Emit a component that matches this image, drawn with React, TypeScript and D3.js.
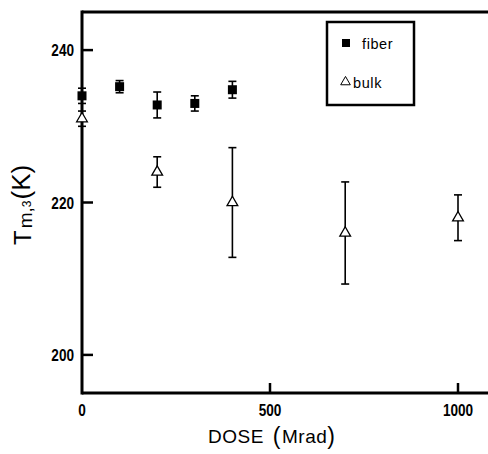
import React from "react";
import * as d3 from "d3";

const fiberDose = [0, 100, 200, 300, 400];
const fiberT = [234.0, 235.2, 232.8, 233.0, 234.8];
const fiberErr = [1.0, 0.8, 1.7, 1.0, 1.1];

const bulkDose = [0, 200, 400, 700, 1000];
const bulkT = [231.0, 224.0, 220.0, 216.0, 218.0];
const bulkErr = [1.0, 2.0, 7.2, 6.7, 3.0];

const xTicks = [0, 500, 1000];
const yTicks = [200, 220, 240];

const W = 488;
const H = 454;

export default function App() {
  const x = d3.scaleLinear().domain([0, 1000]).range([82, 458]);
  const y = d3.scaleLinear().domain([195, 245]).range([393, 12]);
  const left = x(0);
  const right = W;
  const top = y(245);
  const bottom = y(195);
  const sans = "'Liberation Sans', Arial, sans-serif";
  const tri = d3.symbol().type(d3.symbolTriangle).size(50)();
  const cap = 4;
  const sx = 0.8;

  return (
    <svg width={W} height={H} style={{ position: "absolute", left: 0, top: 0, background: "#fff" }}>
      {/* frame */}
      <line x1={left} x2={right} y1={top} y2={top} stroke="#000" strokeWidth={3} />
      <line x1={left} x2={right} y1={bottom} y2={bottom} stroke="#000" strokeWidth={3} />
      <line x1={left} x2={left} y1={top - 1.5} y2={bottom + 1.5} stroke="#000" strokeWidth={3} />

      {/* y ticks */}
      {yTicks.map((t) => (
        <g key={"y" + t}>
          <line x1={left} x2={left + 11} y1={y(t)} y2={y(t)} stroke="#000" strokeWidth={2.5} />
          <text
            transform={`translate(${left - 8},${y(t)}) scale(${sx},1)`}
            dy="0.36em"
            textAnchor="end"
            fontFamily={sans}
            fontWeight="bold"
            fontSize={17}
          >
            {t}
          </text>
        </g>
      ))}

      {/* x ticks */}
      {xTicks.map((t) => (
        <g key={"x" + t}>
          {t !== 0 && <line x1={x(t)} x2={x(t)} y1={bottom} y2={bottom - 10} stroke="#000" strokeWidth={2.5} />}
          <text
            transform={`translate(${x(t)},${bottom + 23}) scale(${sx},1)`}
            textAnchor="middle"
            fontFamily={sans}
            fontWeight="bold"
            fontSize={17}
          >
            {t}
          </text>
        </g>
      ))}

      {/* bulk */}
      {bulkDose.map((d, i) => {
        const cx = x(d);
        const cy = y(bulkT[i]);
        const y1 = y(bulkT[i] + bulkErr[i]);
        const y2 = y(bulkT[i] - bulkErr[i]);
        return (
          <g key={"b" + i}>
            <line x1={cx} x2={cx} y1={y1} y2={y2} stroke="#000" strokeWidth={1.6} />
            <line x1={cx - cap} x2={cx + cap} y1={y1} y2={y1} stroke="#000" strokeWidth={1.6} />
            <line x1={cx - cap} x2={cx + cap} y1={y2} y2={y2} stroke="#000" strokeWidth={1.6} />
            <path d={tri ?? ""} transform={`translate(${cx},${cy})`} fill="#fff" stroke="#000" strokeWidth={1.3} />
          </g>
        );
      })}

      {/* fiber */}
      {fiberDose.map((d, i) => {
        const cx = x(d);
        const cy = y(fiberT[i]);
        const y1 = y(fiberT[i] + fiberErr[i]);
        const y2 = y(fiberT[i] - fiberErr[i]);
        return (
          <g key={"f" + i}>
            <line x1={cx} x2={cx} y1={y1} y2={y2} stroke="#000" strokeWidth={1.6} />
            <line x1={cx - cap} x2={cx + cap} y1={y1} y2={y1} stroke="#000" strokeWidth={1.6} />
            <line x1={cx - cap} x2={cx + cap} y1={y2} y2={y2} stroke="#000" strokeWidth={1.6} />
            <rect x={cx - 4.5} y={cy - 4.5} width={9} height={9} fill="#000" />
          </g>
        );
      })}

      {/* legend */}
      <rect x={327} y={22} width={87} height={83} fill="#fff" stroke="#000" strokeWidth={2.5} />
      <rect x={342} y={39} width={8} height={8} fill="#000" />
      <text x={362} y={49} fontFamily={sans} fontSize={14.5} letterSpacing={0.6}>fiber</text>
      <path d={d3.symbol().type(d3.symbolTriangle).size(40)() ?? ""} transform="translate(345.5,82)" fill="#fff" stroke="#000" strokeWidth={1} />
      <text x={353} y={88} fontFamily={sans} fontSize={14.5} letterSpacing={0.6}>bulk</text>

      {/* axis labels */}
      <text x={208} y={443} fontFamily={sans} fontSize={19} letterSpacing={0.5}>
        DOSE
        <tspan dx={9} fontSize={23} dy={1}>(</tspan>
        <tspan dx={1} dy={-1}>Mrad</tspan>
        <tspan fontSize={23} dy={1}>)</tspan>
      </text>
      <text transform="translate(31,245) rotate(-90)" fontFamily={sans} fontSize={24}>
        T
        <tspan dx={2} dy={1} fontSize={19}>m,</tspan>
        <tspan fontSize={12} dy={-1}>3</tspan>
        <tspan dx={1} dy={-1} fontSize={26}>(K)</tspan>
      </text>
    </svg>
  );
}
